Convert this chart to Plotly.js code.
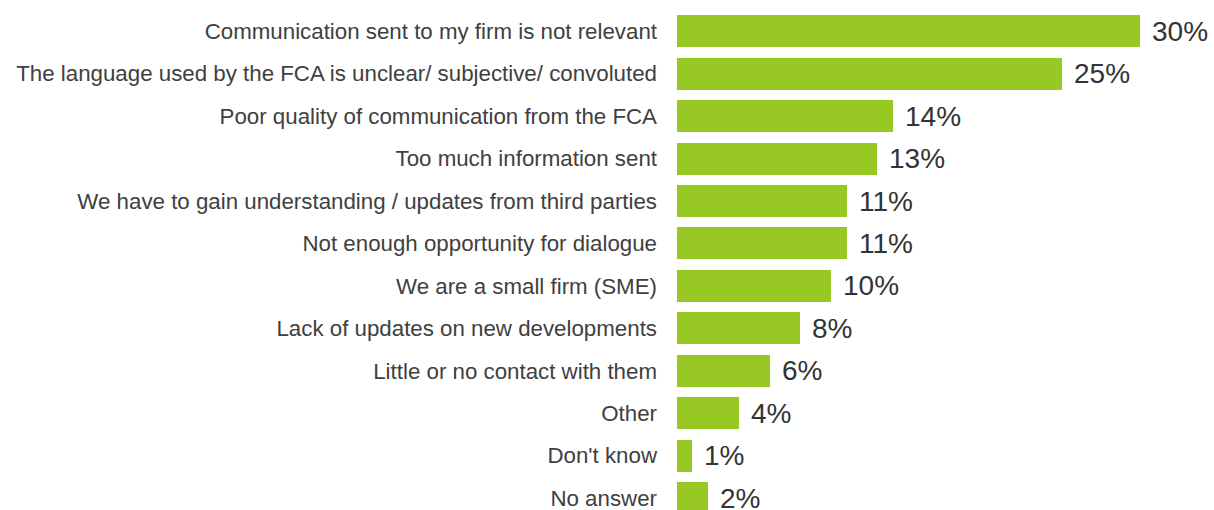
<!DOCTYPE html>
<html>
<head>
<meta charset="utf-8">
<script src="https://cdn.plot.ly/plotly-3.0.1.min.js"></script>
<style>html,body{margin:0;padding:0;background:#fff;}#chart{width:1214px;height:510px;}</style>
</head>
<body>
<div id="chart"></div>
<script>
var categories = [
  "Communication sent to my firm is not relevant",
  "The language used by the FCA is unclear/ subjective/ convoluted",
  "Poor quality of communication from the FCA",
  "Too much information sent",
  "We have to gain understanding / updates from third parties",
  "Not enough opportunity for dialogue",
  "We are a small firm (SME)",
  "Lack of updates on new developments",
  "Little or no contact with them",
  "Other",
  "Don't know",
  "No answer"
];
var values = [30, 25, 14, 13, 11, 11, 10, 8, 6, 4, 1, 2];
var valueLabels = values.map(function(v){ return v + "%"; });

var trace = {
  type: "bar",
  orientation: "h",
  x: values,
  y: categories,
  width: 0.755,
  marker: { color: "#98C823", line: { width: 0 } },
  hoverinfo: "none"
};

var annotations = values.map(function(v, i){
  return {
    x: v, y: categories[i], xref: "x", yref: "y",
    text: valueLabels[i], showarrow: false,
    xanchor: "left", yanchor: "middle", xshift: 10, yshift: 0,
    font: { family: "Liberation Sans, Arial, sans-serif", size: 28, color: "#333333" }
  };
});

var layout = {
  width: 1214, height: 510,
  margin: { l: 677, r: 0, t: 10, b: 0, pad: 0 },
  paper_bgcolor: "#ffffff", plot_bgcolor: "#ffffff",
  showlegend: false,
  bargap: 0,
  xaxis: { range: [0, 34.83], showgrid: false, zeroline: false, showline: false, showticklabels: false, ticks: "" },
  yaxis: {
    type: "category",
    range: [11.28, -0.5],
    showgrid: false, zeroline: false, showline: false, ticks: "",
    ticklabelstandoff: 19,
    tickfont: { family: "Liberation Sans, Arial, sans-serif", size: 22.3, color: "#404040" },
    automargin: false
  },
  annotations: annotations
};

Plotly.newPlot("chart", [trace], layout, { staticPlot: true, displayModeBar: false });
</script>
</body>
</html>
